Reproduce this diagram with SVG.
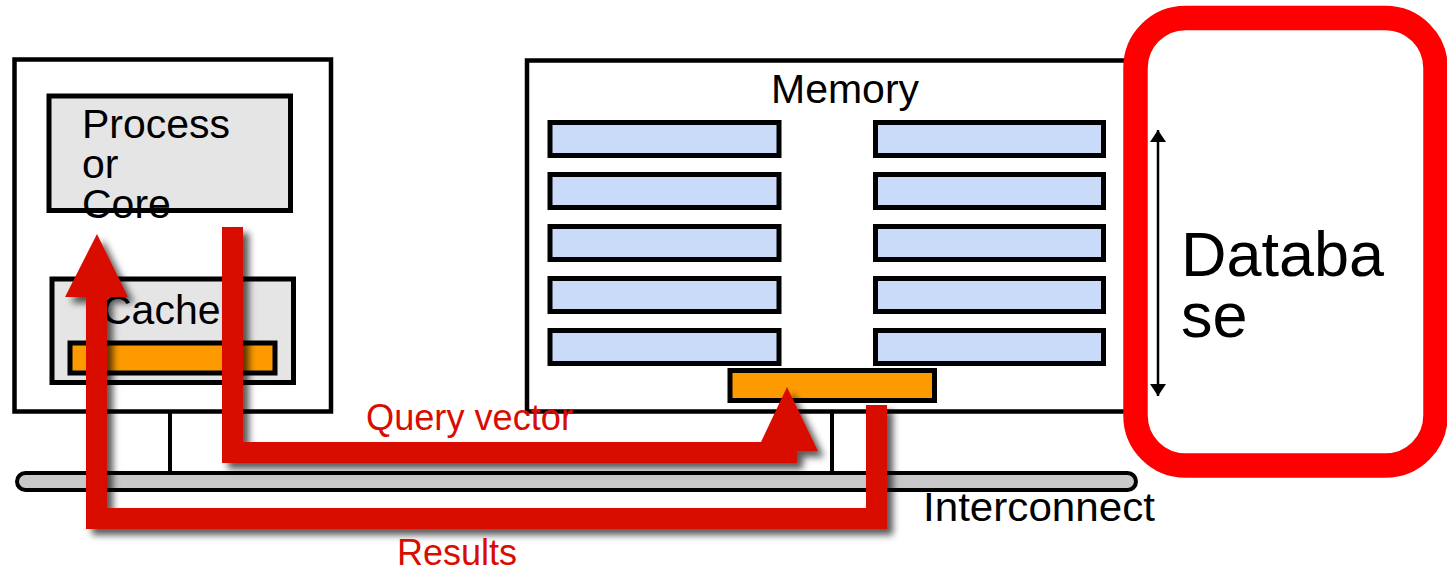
<svg xmlns="http://www.w3.org/2000/svg" width="1447" height="570" viewBox="0 0 1447 570">
<defs>
<style>
.box{fill:#ffffff;stroke:#000;stroke-width:4.5}
.grey{fill:#e5e5e5;stroke:#000;stroke-width:5}
.org{fill:#fd9a00;stroke:#000;stroke-width:5}
.mem{fill:#c9dbf9;stroke:#000;stroke-width:5}
.wire{stroke:#000;stroke-width:4;fill:none}
.t{font-family:"Liberation Sans",Arial,sans-serif;fill:#000}
.rt{font-family:"Liberation Sans",Arial,sans-serif;fill:#d90c00}
.arrow{fill:#d80c00;filter:url(#sh)}
</style>
<filter id="sh" x="-10%" y="-10%" width="130%" height="130%">
<feDropShadow dx="6" dy="6" stdDeviation="3.5" flood-color="#000" flood-opacity="0.65"/>
</filter>
<marker id="ah" viewBox="0 0 12 16" refX="12" refY="8" markerWidth="12" markerHeight="16" orient="auto-start-reverse" markerUnits="userSpaceOnUse">
<path d="M0,0 L12,8 L0,16 Z" fill="#000"/>
</marker>
</defs>

<g id="connectors">
<line class="wire" x1="170" y1="212" x2="170" y2="279"/>
<line class="wire" x1="170" y1="384" x2="170" y2="472"/>
<line class="wire" x1="832" y1="412" x2="832" y2="472"/>
</g>

<g id="cpu-node">
<rect class="box" x="14.5" y="59.5" width="316.5" height="352"/>
</g>

<g id="processor">
<rect class="grey" x="49" y="96" width="241.5" height="114.5"/>
<text class="t" font-size="41" x="82" y="138">Process</text>
<text class="t" font-size="41" x="82" y="178">or</text>
<text class="t" font-size="41" x="82" y="218">Core</text>
</g>

<g id="cache">
<rect class="grey" x="52" y="279" width="241.5" height="103.5"/>
<text class="t" font-size="41" x="102" y="324">Cache</text>
<rect class="org" x="70" y="343" width="205" height="30"/>
</g>

<g id="memory">
<rect class="box" x="527" y="60.5" width="613" height="351"/>
<text class="t" font-size="41" x="771" y="103">Memory</text>
<rect class="mem" x="550" y="122.5" width="229" height="33"/>
<rect class="mem" x="550" y="174.5" width="229" height="33"/>
<rect class="mem" x="550" y="226.5" width="229" height="33"/>
<rect class="mem" x="550" y="278.5" width="229" height="33"/>
<rect class="mem" x="550" y="330.5" width="229" height="33"/>
<rect class="mem" x="875.5" y="122.5" width="228" height="33"/>
<rect class="mem" x="875.5" y="174.5" width="228" height="33"/>
<rect class="mem" x="875.5" y="226.5" width="228" height="33"/>
<rect class="mem" x="875.5" y="278.5" width="228" height="33"/>
<rect class="mem" x="875.5" y="330.5" width="228" height="33"/>
<rect class="org" x="730" y="370.5" width="204.5" height="30"/>
</g>

<g id="interconnect">
<rect x="17" y="473" width="1119" height="17" rx="8.5" fill="#c9c9c9" stroke="#000" stroke-width="4"/>
<text class="t" font-size="40" x="923" y="521" textLength="232" lengthAdjust="spacingAndGlyphs">Interconnect</text>
</g>

<g id="database">
<rect x="1135.5" y="18" width="300" height="447.5" rx="50" fill="#fff" stroke="#ff0000" stroke-width="24.5"/>
<line x1="1158" y1="130" x2="1158" y2="396" stroke="#000" stroke-width="2.5" marker-start="url(#ah)" marker-end="url(#ah)"/>
<text class="t" font-size="63" x="1181" y="276">Databa</text>
<text class="t" font-size="63" x="1181" y="337">se</text>
</g>

<g id="query-vector">
<path class="arrow" d="M222,227 L243,227 L243,442 L761,442 L787,387 L818,451 L797,451 L797,463 L222,463 Z"/>
<text class="rt" font-size="37" x="366" y="430" textLength="207" lengthAdjust="spacingAndGlyphs">Query vector</text>
</g>

<g id="results">
<path class="arrow" d="M866,405 L887,405 L887,529 L86,529 L86,297 L65,297 L97,234 L128,297 L107,297 L107,508 L866,508 Z"/>
<text class="rt" font-size="36" x="397" y="565">Results</text>
</g>
</svg>
